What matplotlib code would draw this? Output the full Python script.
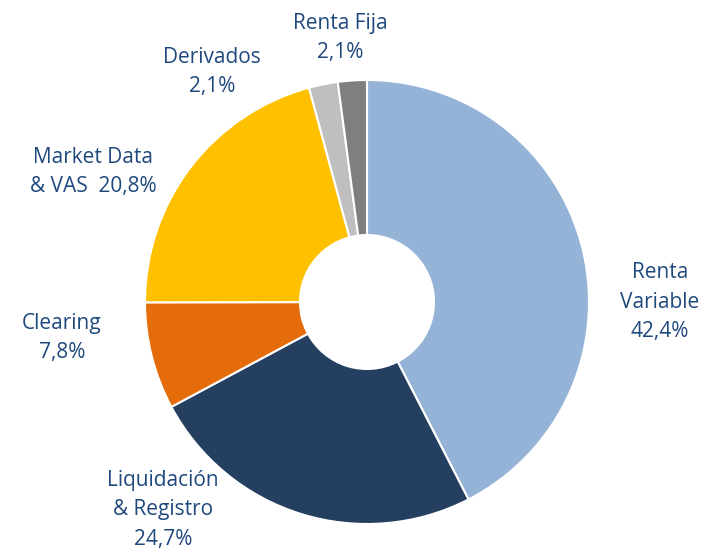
import matplotlib
matplotlib.use('Agg')
import matplotlib.pyplot as plt

# segment shares (%), clockwise from 12 o'clock
segments = ['Renta Variable', 'Liquidación & Registro', 'Clearing',
            'Market Data & VAS', 'Derivados', 'Renta Fija']
shares = [42.4, 24.7, 7.8, 20.8, 2.1, 2.1]
colors = ['#95B3D7', '#243F60', '#E46C0A', '#FFC000', '#BFBFBF', '#7F7F7F']

label_texts = ['Renta\nVariable\n42,4%', 'Liquidación\n& Registro\n24,7%',
               'Clearing\n7,8%', 'Market Data\n& VAS  20,8%',
               'Derivados\n2,1%', 'Renta Fija\n2,1%']
# label centres in pixels (x from left, y from top)
label_pos = [(660, 302), (163, 510), (62, 338), (93, 172), (212, 72), (340, 38)]

W, H = 717, 552
fig = plt.figure(figsize=(W / 100, H / 100), dpi=100)
ax = fig.add_axes([0, 0, 1, 1])
ax.set_xlim(0, W)
ax.set_ylim(0, H)
ax.set_aspect('equal')
ax.axis('off')

cx, cy, r = 367, H - 302, 222
ax.pie(shares, colors=colors, startangle=90, counterclock=False,
       center=(cx, cy), radius=r,
       wedgeprops=dict(width=r - 67, edgecolor='white', linewidth=1.5))
ax.set_xlim(0, W)
ax.set_ylim(0, H)

for txt, (x, y) in zip(label_texts, label_pos):
    ax.text(x, H - y, txt, ha='center', va='center', fontsize=15,
            family='Open Sans', color='#1F497D', linespacing=1.55)

fig.savefig('out.png', dpi=100)
